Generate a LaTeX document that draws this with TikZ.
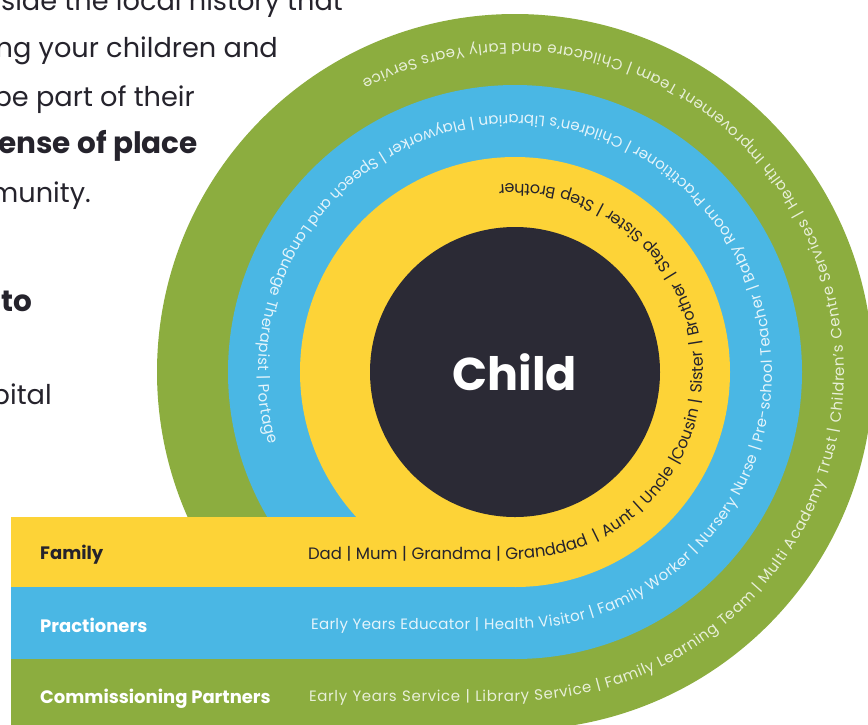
\documentclass[tikz,border=0pt]{standalone}
\usepackage{fontspec}
\setmainfont{Poppins}
\usetikzlibrary{decorations.text}

\definecolor{ringgreen}{HTML}{8CAD3F}
\definecolor{ringblue}{HTML}{4AB7E4}
\definecolor{ringyellow}{HTML}{FDD337}
\definecolor{childdark}{HTML}{2B2A35}
\definecolor{inkdark}{HTML}{25232C}
\definecolor{bluetext}{HTML}{E4F4FB}
\definecolor{greentext}{HTML}{E8EFD8}

\newcommand{\vb}{\textbar}
\newcommand{\famfont}{\fontsize{16.5}{16.5}\selectfont\color{inkdark}}
\newcommand{\famarcfont}{\fontsize{16}{16}\selectfont\color{inkdark}}
\newcommand{\pracfont}{\fontsize{15}{15}\selectfont\color{bluetext}}
\newcommand{\commfont}{\fontsize{15}{15}\selectfont\color{greentext}}

\begin{document}
\begin{tikzpicture}[x=1pt, y=1pt,
                    ringtext/.style = {decorate,
                                       decoration = {text along path,
                                                     text = {#1},
                                                     text align = {fit to path stretching spaces}}},
                    widetext/.style = {decorate,
                                       decoration = {text along path,
                                                     text = {#1},
                                                     text align = {fit to path}}},
                    barlabel/.style = {anchor = base west,
                                       inner sep = 0pt,
                                       font = \fontsize{18}{18}\selectfont\bfseries},
                    copytext/.style = {anchor = base east,
                                       inner sep = 0pt,
                                       text = inkdark,
                                       font = \fontsize{27.2}{27.2}\selectfont}]

\useasboundingbox (0,0) rectangle (868,-724);
\clip (0,0) rectangle (868,-724);

% page text cut off on the left
\node[copytext] (line1) at (343,-10)  {side the local history that};
\node[copytext] (line2) at (278,-57)  {ng your children and};
\node[copytext] (line3) at (195,-106) {be part of their};
\node[copytext, font = \fontsize{29.5}{29.5}\selectfont\bfseries] (line4) at (198,-153) {ense of place};
\node[copytext] (line5) at (91,-202)  {munity.};
\node[copytext, font = \fontsize{29.5}{29.5}\selectfont\bfseries] (line6) at (32,-311)  {to};
\node[copytext] (line7) at (52,-404)  {pital};

% the rings
\coordinate (C) at (515,-372);
\fill[ringgreen]  (C) circle[radius = 358];
\fill[ringblue]   (C) circle[radius = 287];
\fill[ringyellow] (C) circle[radius = 215];

% the bars
\fill[ringgreen]  (11,-659) rectangle (515,-731);
\fill[ringblue]   (11,-587) rectangle (515,-659);
\fill[ringyellow] (11,-517) rectangle (515,-587);

\node[circle, fill = childdark, minimum size = 290, inner sep = 0pt,
      text = white, font = \fontsize{46}{46}\selectfont\bfseries] (child) at (C) {Child};

\node[barlabel, text = inkdark] (family)      at (40,-559) {Family};
\node[barlabel, text = white]   (practioners) at (40,-632) {Practioners};
\node[barlabel, text = white]   (partners)    at (40,-703) {Commissioning Partners};

% family
\path[ringtext = {|\famfont|Dad {\vb} Mum {\vb} Grandma {\vb} Granddad}]
  (308,-559) -- (515,-559) arc[start angle = -90, end angle = -66.8, radius = 187];
\path[ringtext = {|\famarcfont|{\vb} Aunt {\vb} Uncle {\vb}Cousin {\vb} Sister {\vb} Brother {\vb} Step Sister {\vb} Step Brother}]
  ([shift = {(C)}]-64.5:188) arc[start angle = -64.5, end angle = 95, radius = 188];

% practioners
\path[widetext = {|\pracfont|Early Years Educator {\vb} Health Visitor {\vb} Family Worker {\vb} Nursery Nurse {\vb} Pre-school Teacher {\vb} Baby Room Practitioner {\vb} Children's Librarian {\vb} Playworker {\vb} Speech and Language Therapist {\vb} Portage}]
  (311,-629) -- (515,-629) arc[start angle = -90, end angle = 196.4, radius = 257];

% commissioning partners
\path[widetext = {|\commfont|Early Years Service {\vb} Library Service {\vb} Family Learning Team {\vb} Multi Academy Trust {\vb} Children's Centre Services {\vb} Health Improvement Team {\vb} Childcare and Early Years Service}]
  (309,-701) -- (515,-701) arc[start angle = -90, end angle = 117.8, radius = 329];

\end{tikzpicture}
\end{document}
